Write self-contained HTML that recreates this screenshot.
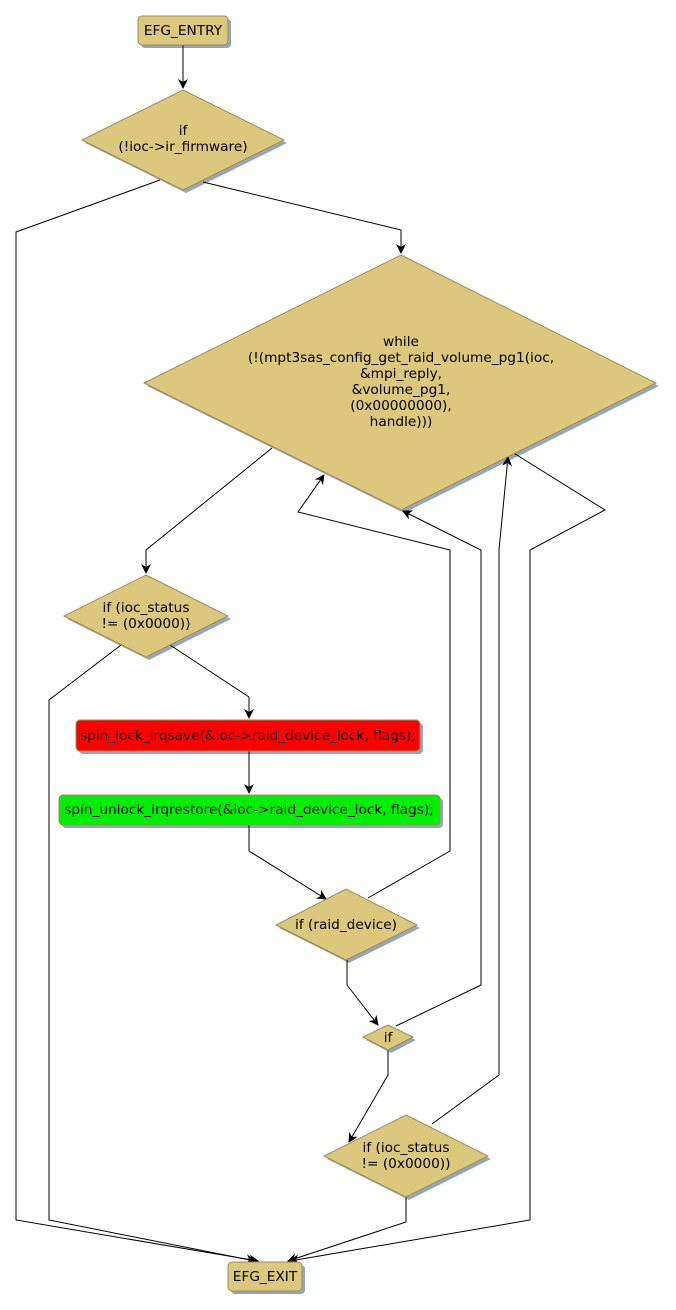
<!DOCTYPE html>
<html><head><meta charset="utf-8"><style>
html,body{margin:0;padding:0;background:#fff;}
svg{display:block;}
text{font-family:"DejaVu Sans","Liberation Sans",sans-serif;font-size:13.7px;fill:#000;text-anchor:middle;}
.n{fill:#dbc87c;stroke:#a08d4e;stroke-width:1;}
.s{fill:#93a5c6;}
.e{fill:none;stroke:#000;stroke-width:1;}
</style></head><body>
<svg width="676" height="1310" viewBox="0 0 676 1310" xmlns="http://www.w3.org/2000/svg">
<defs><marker id="a" markerWidth="10" markerHeight="10" refX="9" refY="5" orient="auto" markerUnits="userSpaceOnUse"><path d="M0,0 L10,5 L0,10 L3,5 z" fill="#000"/></marker></defs>
<rect class="s" x="141" y="19" width="90" height="29" rx="4"/>
<polygon class="s" points="186,93 287,143 186,193 85,143"/>
<polygon class="s" points="404,258 659,386 404,513 147,386"/>
<polygon class="s" points="149,578 231,619 149,660 67,619"/>
<rect class="s" x="79" y="723" width="344" height="31" rx="4"/>
<rect class="s" x="62" y="798" width="381" height="30" rx="4"/>
<polygon class="s" points="349,892 420,928 349,963 279,928"/>
<polygon class="s" points="391,1028 416,1040 391,1053 366,1040"/>
<polygon class="s" points="409,1118 491,1159 409,1200 327,1159"/>
<rect class="s" x="231" y="1265" width="74" height="29" rx="4"/>
<path class="e" d="M183,45 L183,88" marker-end="url(#a)"/>
<path class="e" d="M160,180 L16,232 L16,1220 L258,1261" marker-end="url(#a)"/>
<path class="e" d="M203,182 L401,230 L401,253" marker-end="url(#a)"/>
<path class="e" d="M272,448 L146,550 L146,573" marker-end="url(#a)"/>
<path class="e" d="M512,452 L605,510 L530,550 L530,1220 L290,1261" marker-end="url(#a)"/>
<path class="e" d="M121,645 L49,700 L49,1220 L255,1261" marker-end="url(#a)"/>
<path class="e" d="M170,645 L249,697 L249,718" marker-end="url(#a)"/>
<path class="e" d="M249,751 L249,793" marker-end="url(#a)"/>
<path class="e" d="M249,825 L249,851 L326,899" marker-end="url(#a)"/>
<path class="e" d="M368,898 L450,851 L450,550 L298,512 L324,475" marker-end="url(#a)"/>
<path class="e" d="M347,960 L347,985 L378,1025" marker-end="url(#a)"/>
<path class="e" d="M396,1026 L481,985 L481,550 L403,511" marker-end="url(#a)"/>
<path class="e" d="M388,1050 L388,1075 L349,1142" marker-end="url(#a)"/>
<path class="e" d="M432,1124 L499,1075 L499,550 L508,457" marker-end="url(#a)"/>
<path class="e" d="M406,1197 L406,1222 L288,1261" marker-end="url(#a)"/>
<rect class="n" x="138" y="16" width="90" height="29" rx="4"/>
<text x="183" y="35">EFG_ENTRY</text>
<polygon class="n" points="183,90 284,140 183,190 82,140"/>
<text x="183" y="135">if</text><text x="183" y="151">(!ioc-&gt;ir_firmware)</text>
<polygon class="n" points="401,255 656,383 401,510 144,383"/>
<text x="401" y="346">while</text>
<text x="401" y="362">(!(mpt3sas_config_get_raid_volume_pg1(ioc,</text>
<text x="401" y="378">&amp;mpi_reply,</text>
<text x="401" y="394">&amp;volume_pg1,</text>
<text x="401" y="410">(0x00000000),</text>
<text x="401" y="426">handle)))</text>
<polygon class="n" points="146,575 228,616 146,657 64,616"/>
<text x="146" y="612">if (ioc_status</text><text x="146" y="628">!= (0x0000))</text>
<rect x="76" y="720" width="344" height="31" rx="4" fill="#ff0000" stroke="#a08d4e"/>
<text x="248" y="740">spin_lock_irqsave(&amp;ioc-&gt;raid_device_lock, flags);</text>
<rect x="59" y="795" width="381" height="30" rx="4" fill="#00ee00" stroke="#a08d4e"/>
<text x="249" y="814">spin_unlock_irqrestore(&amp;ioc-&gt;raid_device_lock, flags);</text>
<polygon class="n" points="346,889 417,925 346,960 276,925"/>
<text x="346" y="929">if (raid_device)</text>
<polygon class="n" points="388,1025 413,1037 388,1050 363,1037"/>
<text x="388" y="1042">if</text>
<polygon class="n" points="406,1115 488,1156 406,1197 324,1156"/>
<text x="406" y="1152">if (ioc_status</text><text x="406" y="1168">!= (0x0000))</text>
<rect class="n" x="228" y="1262" width="74" height="29" rx="4"/>
<text x="265" y="1281">EFG_EXIT</text>
</svg>
</body></html>
